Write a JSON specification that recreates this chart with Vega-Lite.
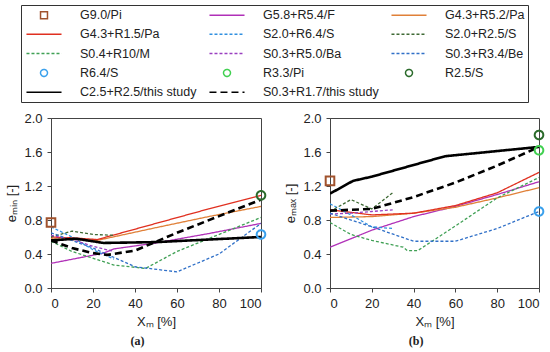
{
  "$schema": "https://vega.github.io/schema/vega-lite/v6.json",
  "padding": {"left": 5, "top": 4, "right": 5, "bottom": 2},
  "background": "white",
  "datasets": {
    "lines": [
      {"panel": "a", "series": "G5.8+R5.4/F", "x": 0, "y": 0.29},
      {"panel": "a", "series": "G5.8+R5.4/F", "x": 25, "y": 0.41},
      {"panel": "a", "series": "G5.8+R5.4/F", "x": 30, "y": 0.46},
      {"panel": "a", "series": "G5.8+R5.4/F", "x": 50, "y": 0.53},
      {"panel": "a", "series": "G5.8+R5.4/F", "x": 75, "y": 0.64},
      {"panel": "a", "series": "G5.8+R5.4/F", "x": 100, "y": 0.76},
      {"panel": "a", "series": "G4.3+R5.2/Pa", "x": 0, "y": 0.58},
      {"panel": "a", "series": "G4.3+R5.2/Pa", "x": 10, "y": 0.57},
      {"panel": "a", "series": "G4.3+R5.2/Pa", "x": 22, "y": 0.56},
      {"panel": "a", "series": "G4.3+R5.2/Pa", "x": 50, "y": 0.71},
      {"panel": "a", "series": "G4.3+R5.2/Pa", "x": 75, "y": 0.84},
      {"panel": "a", "series": "G4.3+R5.2/Pa", "x": 100, "y": 0.96},
      {"panel": "a", "series": "G4.3+R1.5/Pa", "x": 0, "y": 0.60},
      {"panel": "a", "series": "G4.3+R1.5/Pa", "x": 10, "y": 0.59},
      {"panel": "a", "series": "G4.3+R1.5/Pa", "x": 22, "y": 0.57},
      {"panel": "a", "series": "G4.3+R1.5/Pa", "x": 50, "y": 0.76},
      {"panel": "a", "series": "G4.3+R1.5/Pa", "x": 75, "y": 0.93},
      {"panel": "a", "series": "G4.3+R1.5/Pa", "x": 100, "y": 1.09},
      {"panel": "a", "series": "S2.0+R6.4/S", "x": 0, "y": 0.72},
      {"panel": "a", "series": "S2.0+R6.4/S", "x": 10, "y": 0.60},
      {"panel": "a", "series": "S2.0+R6.4/S", "x": 20, "y": 0.45},
      {"panel": "a", "series": "S2.0+R6.4/S", "x": 30, "y": 0.34},
      {"panel": "a", "series": "S2.0+R2.5/S", "x": 0, "y": 0.60},
      {"panel": "a", "series": "S2.0+R2.5/S", "x": 10, "y": 0.67},
      {"panel": "a", "series": "S2.0+R2.5/S", "x": 20, "y": 0.63},
      {"panel": "a", "series": "S2.0+R2.5/S", "x": 30, "y": 0.62},
      {"panel": "a", "series": "S0.4+R10/M", "x": 0, "y": 0.55},
      {"panel": "a", "series": "S0.4+R10/M", "x": 10, "y": 0.43},
      {"panel": "a", "series": "S0.4+R10/M", "x": 30, "y": 0.27},
      {"panel": "a", "series": "S0.4+R10/M", "x": 45, "y": 0.23},
      {"panel": "a", "series": "S0.4+R10/M", "x": 60, "y": 0.43},
      {"panel": "a", "series": "S0.4+R10/M", "x": 100, "y": 0.83},
      {"panel": "a", "series": "S0.3+R5.0/Ba", "x": 0, "y": 0.62},
      {"panel": "a", "series": "S0.3+R5.0/Ba", "x": 10, "y": 0.57},
      {"panel": "a", "series": "S0.3+R5.0/Ba", "x": 20, "y": 0.49},
      {"panel": "a", "series": "S0.3+R5.0/Ba", "x": 30, "y": 0.43},
      {"panel": "a", "series": "S0.3+R3.4/Be", "x": 0, "y": 0.65},
      {"panel": "a", "series": "S0.3+R3.4/Be", "x": 20, "y": 0.47},
      {"panel": "a", "series": "S0.3+R3.4/Be", "x": 40, "y": 0.25},
      {"panel": "a", "series": "S0.3+R3.4/Be", "x": 60, "y": 0.19},
      {"panel": "a", "series": "S0.3+R3.4/Be", "x": 80, "y": 0.40},
      {"panel": "a", "series": "S0.3+R3.4/Be", "x": 100, "y": 0.76},
      {"panel": "a", "series": "C2.5+R2.5/this study", "x": 0, "y": 0.56},
      {"panel": "a", "series": "C2.5+R2.5/this study", "x": 12, "y": 0.58},
      {"panel": "a", "series": "C2.5+R2.5/this study", "x": 25, "y": 0.53},
      {"panel": "a", "series": "C2.5+R2.5/this study", "x": 50, "y": 0.54},
      {"panel": "a", "series": "C2.5+R2.5/this study", "x": 75, "y": 0.57},
      {"panel": "a", "series": "C2.5+R2.5/this study", "x": 100, "y": 0.60},
      {"panel": "a", "series": "S0.3+R1.7/this study", "x": 0, "y": 0.56},
      {"panel": "a", "series": "S0.3+R1.7/this study", "x": 10, "y": 0.47},
      {"panel": "a", "series": "S0.3+R1.7/this study", "x": 20, "y": 0.41},
      {"panel": "a", "series": "S0.3+R1.7/this study", "x": 27, "y": 0.39},
      {"panel": "a", "series": "S0.3+R1.7/this study", "x": 40, "y": 0.44},
      {"panel": "a", "series": "S0.3+R1.7/this study", "x": 60, "y": 0.65},
      {"panel": "a", "series": "S0.3+R1.7/this study", "x": 100, "y": 1.04},
      {"panel": "b", "series": "G5.8+R5.4/F", "x": 0, "y": 0.48},
      {"panel": "b", "series": "G5.8+R5.4/F", "x": 20, "y": 0.68},
      {"panel": "b", "series": "G5.8+R5.4/F", "x": 40, "y": 0.84},
      {"panel": "b", "series": "G5.8+R5.4/F", "x": 60, "y": 0.96},
      {"panel": "b", "series": "G5.8+R5.4/F", "x": 80, "y": 1.10},
      {"panel": "b", "series": "G5.8+R5.4/F", "x": 100, "y": 1.25},
      {"panel": "b", "series": "G4.3+R5.2/Pa", "x": 0, "y": 0.83},
      {"panel": "b", "series": "G4.3+R5.2/Pa", "x": 20, "y": 0.84},
      {"panel": "b", "series": "G4.3+R5.2/Pa", "x": 40, "y": 0.88},
      {"panel": "b", "series": "G4.3+R5.2/Pa", "x": 60, "y": 0.95},
      {"panel": "b", "series": "G4.3+R5.2/Pa", "x": 80, "y": 1.06},
      {"panel": "b", "series": "G4.3+R5.2/Pa", "x": 100, "y": 1.18},
      {"panel": "b", "series": "G4.3+R1.5/Pa", "x": 0, "y": 0.92},
      {"panel": "b", "series": "G4.3+R1.5/Pa", "x": 20, "y": 0.86},
      {"panel": "b", "series": "G4.3+R1.5/Pa", "x": 40, "y": 0.88},
      {"panel": "b", "series": "G4.3+R1.5/Pa", "x": 60, "y": 0.97},
      {"panel": "b", "series": "G4.3+R1.5/Pa", "x": 80, "y": 1.12},
      {"panel": "b", "series": "G4.3+R1.5/Pa", "x": 100, "y": 1.36},
      {"panel": "b", "series": "S2.0+R6.4/S", "x": 0, "y": 0.99},
      {"panel": "b", "series": "S2.0+R6.4/S", "x": 10, "y": 0.86},
      {"panel": "b", "series": "S2.0+R6.4/S", "x": 20, "y": 0.72},
      {"panel": "b", "series": "S2.0+R6.4/S", "x": 30, "y": 0.70},
      {"panel": "b", "series": "S2.0+R2.5/S", "x": 0, "y": 0.90},
      {"panel": "b", "series": "S2.0+R2.5/S", "x": 10, "y": 1.04},
      {"panel": "b", "series": "S2.0+R2.5/S", "x": 20, "y": 0.93},
      {"panel": "b", "series": "S2.0+R2.5/S", "x": 30, "y": 1.12},
      {"panel": "b", "series": "S0.4+R10/M", "x": 0, "y": 0.77},
      {"panel": "b", "series": "S0.4+R10/M", "x": 10, "y": 0.63},
      {"panel": "b", "series": "S0.4+R10/M", "x": 20, "y": 0.56},
      {"panel": "b", "series": "S0.4+R10/M", "x": 35, "y": 0.48},
      {"panel": "b", "series": "S0.4+R10/M", "x": 37, "y": 0.44},
      {"panel": "b", "series": "S0.4+R10/M", "x": 42, "y": 0.44},
      {"panel": "b", "series": "S0.4+R10/M", "x": 60, "y": 0.73},
      {"panel": "b", "series": "S0.4+R10/M", "x": 80, "y": 1.06},
      {"panel": "b", "series": "S0.4+R10/M", "x": 100, "y": 1.30},
      {"panel": "b", "series": "S0.3+R5.0/Ba", "x": 0, "y": 0.87},
      {"panel": "b", "series": "S0.3+R5.0/Ba", "x": 10, "y": 0.88},
      {"panel": "b", "series": "S0.3+R5.0/Ba", "x": 20, "y": 0.90},
      {"panel": "b", "series": "S0.3+R5.0/Ba", "x": 30, "y": 0.92},
      {"panel": "b", "series": "S0.3+R3.4/Be", "x": 0, "y": 0.88},
      {"panel": "b", "series": "S0.3+R3.4/Be", "x": 20, "y": 0.72},
      {"panel": "b", "series": "S0.3+R3.4/Be", "x": 40, "y": 0.55},
      {"panel": "b", "series": "S0.3+R3.4/Be", "x": 60, "y": 0.55},
      {"panel": "b", "series": "S0.3+R3.4/Be", "x": 80, "y": 0.70},
      {"panel": "b", "series": "S0.3+R3.4/Be", "x": 100, "y": 0.90},
      {"panel": "b", "series": "C2.5+R2.5/this study", "x": 0, "y": 1.11},
      {"panel": "b", "series": "C2.5+R2.5/this study", "x": 11, "y": 1.26},
      {"panel": "b", "series": "C2.5+R2.5/this study", "x": 20, "y": 1.31},
      {"panel": "b", "series": "C2.5+R2.5/this study", "x": 55, "y": 1.55},
      {"panel": "b", "series": "C2.5+R2.5/this study", "x": 100, "y": 1.66},
      {"panel": "b", "series": "S0.3+R1.7/this study", "x": 0, "y": 0.91},
      {"panel": "b", "series": "S0.3+R1.7/this study", "x": 20, "y": 0.93},
      {"panel": "b", "series": "S0.3+R1.7/this study", "x": 40, "y": 1.07},
      {"panel": "b", "series": "S0.3+R1.7/this study", "x": 60, "y": 1.24},
      {"panel": "b", "series": "S0.3+R1.7/this study", "x": 80, "y": 1.44},
      {"panel": "b", "series": "S0.3+R1.7/this study", "x": 100, "y": 1.66}
    ],
    "points": [
      {"panel": "a", "series": "G9.0/Pi", "x": 0, "y": 0.77},
      {"panel": "a", "series": "R6.4/S", "x": 100, "y": 0.63},
      {"panel": "a", "series": "R2.5/S", "x": 100, "y": 1.09},
      {"panel": "b", "series": "G9.0/Pi", "x": 0, "y": 1.26},
      {"panel": "b", "series": "R6.4/S", "x": 100, "y": 0.90},
      {"panel": "b", "series": "R3.3/Pi", "x": 100, "y": 1.62},
      {"panel": "b", "series": "R2.5/S", "x": 100, "y": 1.80}
    ]
  },
  "hconcat": [
    {
      "width": 210,
      "height": 170,
      "title": {"text": "(a)", "orient": "bottom", "frame": "bounds", "anchor": "middle", "font": "Liberation Serif", "fontSize": 12, "fontWeight": "bold", "color": "#222", "offset": 8},
      "layer": [
        {
          "data": {"name": "lines"},
          "transform": [{"filter": "datum.panel == 'a' && indexof(datum.series, 'this study') < 0"}],
          "mark": {"type": "line", "clip": true, "strokeWidth": 1.3},
          "encoding": {
            "x": {"field": "x", "type": "quantitative", "scale": {"domain": [0, 100], "nice": false}, "axis": {"values": [0, 20, 40, 60, 80, 100], "tickCount": 10, "title": "Xₘ [%]", "labelOverlap": false}},
            "y": {"field": "y", "type": "quantitative", "scale": {"domain": [0, 2], "nice": false}, "axis": {"values": [0, 0.4, 0.8, 1.2, 1.6, 2.0], "tickCount": 10, "format": ".1f", "title": "eₘᵢₙ [-]", "labelOverlap": false, "labelFlush": false, "labelBound": false}},
            "color": {"field": "series", "type": "nominal", "scale": {"domain": ["G9.0/Pi", "G5.8+R5.4/F", "G4.3+R5.2/Pa", "G4.3+R1.5/Pa", "S2.0+R6.4/S", "S2.0+R2.5/S", "S0.4+R10/M", "S0.3+R5.0/Ba", "S0.3+R3.4/Be", "R6.4/S", "R3.3/Pi", "R2.5/S", "C2.5+R2.5/this study", "S0.3+R1.7/this study"], "range": ["#a0522d", "#b030b8", "#e08038", "#e03020", "#3090e0", "#3f6a35", "#40a055", "#9a40c0", "#3070c8", "#3aa0ec", "#40d050", "#2a6a2a", "#000000", "#000000"]}, "legend": {"title": null}},
            "strokeDash": {"field": "series", "type": "nominal", "scale": {"domain": ["G9.0/Pi", "G5.8+R5.4/F", "G4.3+R5.2/Pa", "G4.3+R1.5/Pa", "S2.0+R6.4/S", "S2.0+R2.5/S", "S0.4+R10/M", "S0.3+R5.0/Ba", "S0.3+R3.4/Be", "R6.4/S", "R3.3/Pi", "R2.5/S", "C2.5+R2.5/this study", "S0.3+R1.7/this study"], "range": [[1, 0], [1, 0], [1, 0], [1, 0], [3, 2], [3, 2], [3, 2], [3, 2], [3, 2], [1, 0], [1, 0], [1, 0], [1, 0], [7, 4]]}, "legend": {"title": null}}
          }
        },
        {
          "data": {"name": "lines"},
          "transform": [{"filter": "datum.panel == 'a' && indexof(datum.series, 'this study') >= 0"}],
          "mark": {"type": "line", "clip": true, "strokeWidth": 2.6},
          "encoding": {
            "x": {"field": "x", "type": "quantitative"},
            "y": {"field": "y", "type": "quantitative"},
            "color": {"field": "series", "type": "nominal", "legend": {"title": null}},
            "strokeDash": {"field": "series", "type": "nominal", "legend": {"title": null}}
          }
        },
        {
          "data": {"name": "points"},
          "transform": [{"filter": "datum.panel == 'a'"}],
          "mark": {"type": "point", "filled": false, "size": 220, "opacity": 1, "strokeWidth": 2, "clip": false},
          "encoding": {
            "x": {"field": "x", "type": "quantitative"},
            "y": {"field": "y", "type": "quantitative"},
            "color": {"field": "series", "type": "nominal", "legend": {"title": null}},
            "strokeDash": {"field": "series", "type": "nominal", "legend": {"title": null}},
            "shape": {"field": "series", "type": "nominal", "scale": {"domain": ["G9.0/Pi", "G5.8+R5.4/F", "G4.3+R5.2/Pa", "G4.3+R1.5/Pa", "S2.0+R6.4/S", "S2.0+R2.5/S", "S0.4+R10/M", "S0.3+R5.0/Ba", "S0.3+R3.4/Be", "R6.4/S", "R3.3/Pi", "R2.5/S", "C2.5+R2.5/this study", "S0.3+R1.7/this study"], "range": ["M-0.58,-0.58L0.58,-0.58L0.58,0.58L-0.58,0.58Z", "M-2.92,0L2.92,0", "M-2.92,0L2.92,0", "M-2.92,0L2.92,0", "M-2.92,0L2.92,0", "M-2.92,0L2.92,0", "M-2.92,0L2.92,0", "M-2.92,0L2.92,0", "M-2.92,0L2.92,0", "M-0.58,0A0.58,0.58,0,1,1,0.58,0A0.58,0.58,0,1,1,-0.58,0Z", "M-0.58,0A0.58,0.58,0,1,1,0.58,0A0.58,0.58,0,1,1,-0.58,0Z", "M-0.58,0A0.58,0.58,0,1,1,0.58,0A0.58,0.58,0,1,1,-0.58,0Z", "M-2.92,0L2.92,0", "M-2.92,0L2.92,0"]}, "legend": {"title": null}}
          }
        }
      ]
    },
    {
      "width": 209,
      "height": 170,
      "title": {"text": "(b)", "orient": "bottom", "frame": "bounds", "anchor": "middle", "font": "Liberation Serif", "fontSize": 12, "fontWeight": "bold", "color": "#222", "offset": 8},
      "layer": [
        {
          "data": {"name": "lines"},
          "transform": [{"filter": "datum.panel == 'b' && indexof(datum.series, 'this study') < 0"}],
          "mark": {"type": "line", "clip": true, "strokeWidth": 1.3},
          "encoding": {
            "x": {"field": "x", "type": "quantitative", "scale": {"domain": [0, 100], "nice": false}, "axis": {"values": [0, 20, 40, 60, 80, 100], "tickCount": 10, "title": "Xₘ [%]", "labelOverlap": false}},
            "y": {"field": "y", "type": "quantitative", "scale": {"domain": [0, 2], "nice": false}, "axis": {"values": [0, 0.4, 0.8, 1.2, 1.6, 2.0], "tickCount": 10, "format": ".1f", "title": "eₘₐₓ [-]", "labelOverlap": false, "labelFlush": false, "labelBound": false}},
            "color": {"field": "series", "type": "nominal", "legend": {"title": null}},
            "strokeDash": {"field": "series", "type": "nominal", "legend": {"title": null}}
          }
        },
        {
          "data": {"name": "lines"},
          "transform": [{"filter": "datum.panel == 'b' && indexof(datum.series, 'this study') >= 0"}],
          "mark": {"type": "line", "clip": true, "strokeWidth": 2.6},
          "encoding": {
            "x": {"field": "x", "type": "quantitative"},
            "y": {"field": "y", "type": "quantitative"},
            "color": {"field": "series", "type": "nominal", "legend": {"title": null}},
            "strokeDash": {"field": "series", "type": "nominal", "legend": {"title": null}}
          }
        },
        {
          "data": {"name": "points"},
          "transform": [{"filter": "datum.panel == 'b'"}],
          "mark": {"type": "point", "filled": false, "size": 220, "opacity": 1, "strokeWidth": 2, "clip": false},
          "encoding": {
            "x": {"field": "x", "type": "quantitative"},
            "y": {"field": "y", "type": "quantitative"},
            "color": {"field": "series", "type": "nominal", "legend": {"title": null}},
            "strokeDash": {"field": "series", "type": "nominal", "legend": {"title": null}},
            "shape": {"field": "series", "type": "nominal", "legend": {"title": null}}
          }
        }
      ]
    }
  ],
  "spacing": 14,
  "resolve": {
    "scale": {"color": "shared", "strokeDash": "shared", "shape": "shared"},
    "legend": {"color": "shared", "strokeDash": "shared", "shape": "shared"}
  },
  "config": {
    "view": {"stroke": "#444", "strokeWidth": 1},
    "axis": {"grid": false, "labelFont": "Liberation Sans", "labelFontSize": 13, "labelColor": "#222", "titleFont": "Liberation Sans", "titleFontSize": 13, "titleFontWeight": "normal", "titleColor": "#222", "domainColor": "#444", "tickColor": "#444", "tickSize": 4, "labelPadding": 5, "titlePadding": 5, "labelOverlap": false},
    "legend": {"orient": "none", "legendX": -30, "legendY": -113, "direction": "horizontal", "columns": 3, "columnPadding": 9, "rowPadding": 5.3, "padding": 3, "strokeColor": "#333", "labelFont": "Liberation Sans", "labelFontSize": 12.5, "labelColor": "#222", "symbolOffset": 13, "labelOffset": 29, "symbolSize": 144, "symbolStrokeWidth": 1.5, "symbolFillColor": "transparent", "labelLimit": 300,
      "labelExpr": "datum.label == 'G4.3+R5.2/Pa' ? datum.label + '           ' : datum.label"}
  }
}
